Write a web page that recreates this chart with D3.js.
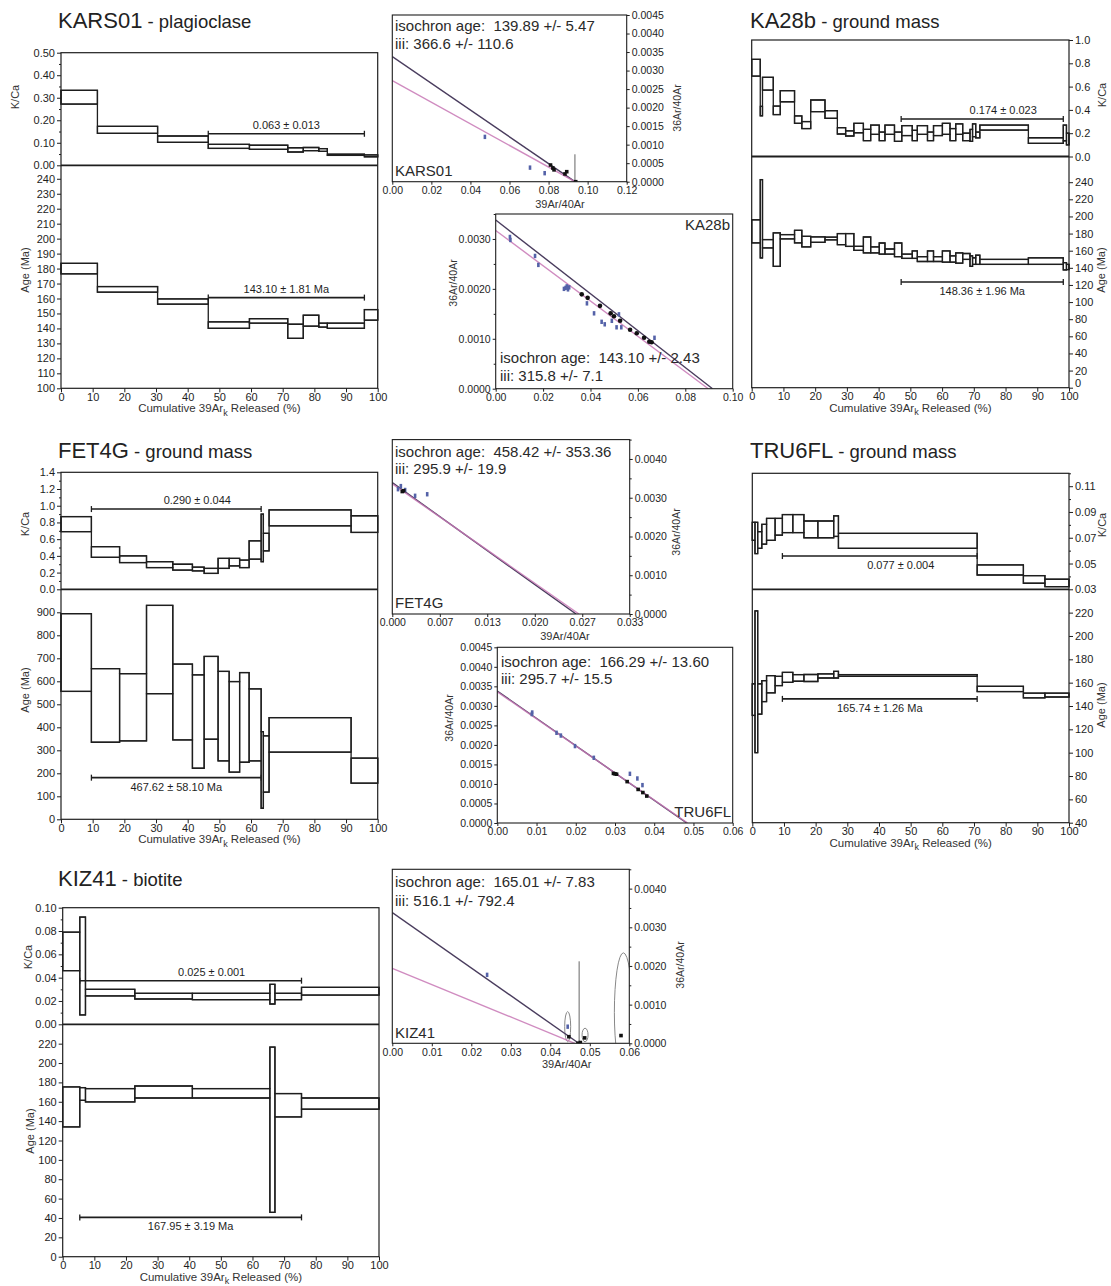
<!DOCTYPE html>
<html>
<head>
<meta charset="utf-8">
<script src="https://cdn.jsdelivr.net/npm/d3@7"></script>
<style>
  body { margin: 0; background: #fff; }
  svg { font-family: Arial, "Liberation Sans", sans-serif; }
</style>
</head>
<body>
<div id="chart"></div>
<script>
// ---------- step data: cumulative 39Ar boundaries, [low, high] per step ----------
const pctTicks = [0, 10, 20, 30, 40, 50, 60, 70, 80, 90, 100];

// KARS01 - plagioclase
const kars01Cum = [0, 11.5, 30.5, 46.5, 59.5, 71.6, 76.5, 81.4, 84.1, 95.8, 100];
const kars01KCa = [[0.272, 0.333], [0.142, 0.173], [0.102, 0.130], [0.075, 0.093], [0.071, 0.089],
  [0.059, 0.078], [0.065, 0.079], [0.062, 0.074], [0.044, 0.049], [0.038, 0.046]];
const kars01Age = [[176.5, 183.5], [164.2, 168], [156.2, 159.7], [140.1, 144.4], [143.5, 146.5],
  [133.4, 142.8], [141.5, 148.8], [140.9, 143.5], [140.1, 143.5], [145.5, 152.6]];
const kars01KCaPlateau = [46.5, 95.8, 0.140];
const kars01AgePlateau = [46.5, 95.8, 160.6];
const kars01KCaTicks = [0, 0.1, 0.2, 0.3, 0.4, 0.5];
const kars01KCaMinor = [0.05, 0.15, 0.25, 0.35, 0.45];
const kars01AgeTicks = [100, 110, 120, 130, 140, 150, 160, 170, 180, 190, 200, 210, 220, 230, 240];

// KA28b - ground mass
const ka28bCum = [0, 2.7, 3.4, 6.8, 9, 13.5, 15.8, 18.6, 23.1, 27, 29.6, 32.2, 35.2, 37.5, 40.2, 42, 45,
  47.3, 50.6, 52.2, 55.4, 57.3, 60.1, 62.5, 64.3, 66.5, 68.8, 69.6, 70.6, 71.9, 87.2, 98.2, 99.2, 100];
const ka28bKCa = [[0.69, 0.834], [0.35, 0.43], [0.57, 0.68], [0.36, 0.433], [0.47, 0.565], [0.285, 0.348],
  [0.24, 0.30], [0.385, 0.485], [0.328, 0.393], [0.193, 0.247], [0.176, 0.22], [0.204, 0.285],
  [0.136, 0.233], [0.19, 0.27], [0.136, 0.21], [0.19, 0.27], [0.13, 0.21], [0.18, 0.265],
  [0.136, 0.225], [0.19, 0.265], [0.136, 0.21], [0.18, 0.265], [0.19, 0.285], [0.136, 0.24],
  [0.19, 0.28], [0.136, 0.2], [0.13, 0.232], [0.17, 0.28], [0.16, 0.21], [0.227, 0.27],
  [0.113, 0.161], [0.135, 0.27], [0.10, 0.2]];
const ka28bAge = [[169.1, 196.1], [151.5, 243], [163.2, 173], [141.7, 180.8], [173.8, 178.8], [169.1, 183.8],
  [164.4, 176.8], [169.8, 176.1], [172.7, 175.8], [167, 180], [165, 180], [160.4, 165.1],
  [157.4, 176], [157.4, 164.4], [156, 169], [156, 162], [153, 169], [151, 156],
  [151, 159.7], [147.4, 153], [147.4, 159.7], [147.4, 153], [146.6, 159.7], [146.6, 154],
  [145.4, 157.4], [149.8, 156.7], [141.7, 154], [144, 151.7], [144, 154.7], [144, 149.8],
  [144, 151.7], [137.5, 146], [138, 144]];
const ka28bKCaPlateau = [47.1, 98.2, 0.322];
const ka28bAgePlateau = [47.1, 98.2, 123.4];
const ka28bKCaTicks = [0, 0.2, 0.4, 0.6, 0.8, 1.0];
const ka28bAgeTicks = [0, 20, 40, 60, 80, 100, 120, 140, 160, 180, 200, 220, 240];

// FET4G - ground mass
const fet4gCum = [0, 9.6, 18.5, 27, 35.3, 41.5, 45.2, 49.6, 53.1, 56.4, 59.4, 63.2, 63.9, 65.7, 91.6, 100];
const fet4gKCa = [[0.69, 0.87], [0.383, 0.51], [0.32, 0.40], [0.26, 0.33], [0.23, 0.30], [0.22, 0.265],
  [0.19, 0.25], [0.25, 0.37], [0.28, 0.37], [0.26, 0.35], [0.36, 0.58], [0.33, 0.90], [0.46, 0.67],
  [0.76, 0.95], [0.68, 0.88]];
const fet4gAge = [[556, 894], [335, 655], [341, 633], [546, 930], [345, 675], [222, 628], [348, 708],
  [254, 643], [205, 599], [248, 638], [254, 567], [48, 381], [118, 363], [292, 442], [157, 266]];
const fet4gKCaPlateau = [9.6, 63.2, 0.96];
const fet4gAgePlateau = [9.6, 63.2, 181];
const fet4gKCaTicks = [0, 0.2, 0.4, 0.6, 0.8, 1.0, 1.2, 1.4];
const fet4gKCaMinor = [0.1, 0.3, 0.5, 0.7, 0.9, 1.1, 1.3];
const fet4gAgeTicks = [0, 100, 200, 300, 400, 500, 600, 700, 800, 900];

// TRU6FL - ground mass
const tru6flCum = [0, 0.85, 1.7, 3, 4.5, 7.2, 9.5, 12.8, 16.3, 20.7, 25.7, 27.2, 71, 85.6, 92.4, 100];
const tru6flKCa = [[0.068, 0.082], [0.0577, 0.082], [0.0618, 0.0747], [0.065, 0.0804], [0.068, 0.085],
  [0.072, 0.085], [0.074, 0.088], [0.074, 0.088], [0.07, 0.083], [0.07, 0.083], [0.071, 0.087],
  [0.0618, 0.0734], [0.0411, 0.0489], [0.0347, 0.0406], [0.032, 0.0378]];
const tru6flAge = [[131.9, 159], [100, 221.5], [133, 159], [143.8, 161.7], [151.3, 166], [157.5, 165.4],
  [160.3, 168.8], [161.2, 166.9], [161, 167], [164, 167.5], [164, 169.7], [165.4, 166.9],
  [152.4, 156.9], [147, 151], [147.7, 151]];
const tru6flKCaPlateau = [9.5, 71, 0.0558];
const tru6flAgePlateau = [9.5, 71, 146.1];
const tru6flKCaTicks = [0.03, 0.05, 0.07, 0.09, 0.11];
const tru6flKCaMinor = [0.04, 0.06, 0.08, 0.10, 0.12];
const tru6flAgeTicks = [40, 60, 80, 100, 120, 140, 160, 180, 200, 220];

// KIZ41 - biotite
const kiz41Cum = [0, 5.4, 7.2, 22.8, 41, 65.5, 67.1, 75.5, 100];
const kiz41KCa = [[0.046, 0.079], [0.008, 0.092], [0.0243, 0.030], [0.0217, 0.0266], [0.0211, 0.0266],
  [0.0174, 0.0343], [0.0211, 0.0266], [0.0251, 0.0317]];
const kiz41Age = [[134, 175.3], [161.5, 174.6], [159.8, 173.6], [163.9, 176.3], [163.9, 173.6],
  [45.8, 216.5], [144.3, 168.5], [152.3, 163.9]];
const kiz41KCaPlateau = [5.4, 75.5, 0.0374];
const kiz41AgePlateau = [5.4, 75.5, 40.6];
const kiz41KCaTicks = [0, 0.02, 0.04, 0.06, 0.08, 0.10];
const kiz41KCaMinor = [0.01, 0.03, 0.05, 0.07, 0.09];
const kiz41AgeTicks = [0, 20, 40, 60, 80, 100, 120, 140, 160, 180, 200, 220];

// ---------- isochron data: [39Ar/40Ar, 36Ar/40Ar]; lines as [y-intercept, x-intercept] ----------
const kars01IsoBlue = [[0.0474, 0.00121], [0.0705, 0.00038], [0.078, 0.00023]];
const kars01IsoBlack = [[0.081, 0.00045], [0.0828, 0.00032], [0.0822, 0.00037], [0.0884, 0.00021],
  [0.0893, 0.00027], [0.0939, 0.0]];
const kars01IsoLines = [[0.00338, 0.0935], [0.00273, 0.0935]];
const kars01IsoErr = [[0.0935, 0, 0.00074]];
const kars01IsoXTicks = [0, 0.02, 0.04, 0.06, 0.08, 0.10, 0.12];
const kars01IsoYTicks = [0, 0.0005, 0.001, 0.0015, 0.002, 0.0025, 0.003, 0.0035, 0.004, 0.0045];

const ka28bIsoBlue = [[0.006, 0.00304], [0.0062, 0.00298], [0.0166, 0.00266], [0.018, 0.00248],
  [0.0295, 0.00202], [0.030, 0.00205], [0.0305, 0.00199], [0.031, 0.00203], [0.0288, 0.0020],
  [0.0385, 0.00171], [0.0415, 0.00151], [0.052, 0.00149], [0.049, 0.00136], [0.0447, 0.00134],
  [0.046, 0.00129], [0.051, 0.00123], [0.053, 0.00123], [0.067, 0.00102]];
const ka28bIsoBlack = [[0.0363, 0.00189], [0.0388, 0.00182], [0.044, 0.00166], [0.0485, 0.00151],
  [0.0499, 0.00145], [0.0525, 0.00136], [0.0567, 0.00118], [0.0595, 0.00111], [0.0626, 0.00102],
  [0.0658, 0.00093], [0.0648, 0.00094]];
const ka28bIsoLines = [[0.00338, 0.0915], [0.00317, 0.0897]];
const ka28bIsoXTicks = [0, 0.02, 0.04, 0.06, 0.08, 0.10];
const ka28bIsoYTicks = [0, 0.001, 0.002, 0.003];
const ka28bIsoYMinor = [0.0005, 0.0015, 0.0025, 0.0035];

const fet4gIsoBlue = [[0.0018, 0.0032], [0.0008, 0.00322], [0.0032, 0.00305], [0.0049, 0.00309],
  [0.0012, 0.0033]];
const fet4gIsoBlack = [[0.0014, 0.00316], [0.0016, 0.00318]];
const fet4gIsoLines = [[0.00339, 0.0258], [0.00336, 0.0262]];
const fet4gIsoXTicks = [0, 0.00667, 0.01333, 0.02, 0.02667, 0.03333];
const fet4gIsoYTicks = [0, 0.001, 0.002, 0.003, 0.004];
const fet4gIsoYMinor = [0.0005, 0.0015, 0.0025, 0.0035, 0.0045];

const tru6flIsoBlue = [[0.0088, 0.00279], [0.0089, 0.00283], [0.0151, 0.00231], [0.0162, 0.00224],
  [0.0198, 0.00197], [0.0246, 0.00167], [0.0338, 0.00126], [0.0357, 0.00114], [0.037, 0.00097]];
const tru6flIsoBlack = [[0.0296, 0.00127], [0.0300, 0.00126], [0.0304, 0.00125], [0.0331, 0.00106],
  [0.0359, 0.00086], [0.0371, 0.00078], [0.0381, 0.00069]];
const tru6flIsoLines = [[0.00338, 0.0483], [0.00336, 0.0485]];
const tru6flIsoXTicks = [0, 0.01, 0.02, 0.03, 0.04, 0.05, 0.06];
const tru6flIsoYTicks = [0, 0.0005, 0.001, 0.0015, 0.002, 0.0025, 0.003, 0.0035, 0.004, 0.0045];

const kiz41IsoBlue = [[0.024, 0.00177], [0.0444, 0.00043]];
const kiz41IsoBlack = [[0.0447, 0.00017], [0.0487, 0.00014], [0.047, 0.0], [0.0476, 0.00002],
  [0.0579, 0.0002]];
const kiz41IsoLines = [[0.00338, 0.0472], [0.00194, 0.0462]];
const kiz41IsoErr = [[0.0473, 0, 0.00212]];
const kiz41IsoEllipses = [[0.0444, 0.00043, 0.00076, 0.00039], [0.0488, 0.000215, 0.00076, 0.000175],
  [0.0585, 0.0008, 0.00228, 0.00154]];
const kiz41IsoXTicks = [0, 0.01, 0.02, 0.03, 0.04, 0.05, 0.06];
const kiz41IsoYTicks = [0, 0.001, 0.002, 0.003, 0.004];
const kiz41IsoYMinor = [0.0005, 0.0015, 0.0025, 0.0035, 0.0045];

// ---------- drawing ----------
const svg = d3.select("#chart").append("svg").attr("width", 1111).attr("height", 1286);
const ink = "#1e1e1e";
const darkLine = "#4a3d5e", pinkLine = "#c878b6", bluePt = "#5462a8";

function addAxis(side, scale, ticks, fmt, minor, at, size, len, pad) {
  const gen = side === "left" ? d3.axisLeft : side === "right" ? d3.axisRight : d3.axisBottom;
  const tr = side === "bottom" ? `translate(0,${at})` : `translate(${at},0)`;
  if (minor) {
    svg.append("g").attr("transform", tr)
      .call(gen(scale).tickValues(minor).tickSize(2).tickFormat(""))
      .call((g) => g.select(".domain").remove())
      .selectAll("line").attr("stroke", ink);
  }
  const g = svg.append("g").attr("transform", tr)
    .call(gen(scale).tickValues(ticks).tickSize(len || 4).tickPadding(pad == null ? 2 : pad).tickFormat(fmt));
  g.select(".domain").remove();
  g.selectAll("line").attr("stroke", ink);
  g.selectAll("text").attr("font-size", size).attr("font-family", "Arial, 'Liberation Sans', sans-serif")
    .attr("fill", ink);
  return g;
}

function vText(x, y, txt, size) {
  svg.append("text").attr("transform", `translate(${x},${y}) rotate(-90)`)
    .attr("text-anchor", "middle").attr("dy", "0.35em")
    .attr("font-size", size).attr("fill", "#333").text(txt);
}

function drawSteps(g, x, y, cum, vals) {
  const up = [], lo = [];
  vals.forEach((v, i) => {
    up.push([cum[i], v[1]], [cum[i + 1], v[1]]);
    lo.push([cum[i], v[0]], [cum[i + 1], v[0]]);
  });
  const line = d3.line().x((d) => x(d[0])).y((d) => y(d[1]));
  g.append("path").attr("d", line(up.concat(lo.reverse())) + "Z")
    .attr("fill", "none").attr("stroke", ink).attr("stroke-width", 1.3);
  g.selectAll(null).data(vals).join("rect")
    .attr("x", (d, i) => x(cum[i]))
    .attr("y", (d) => y(d[1]))
    .attr("width", (d, i) => x(cum[i + 1]) - x(cum[i]))
    .attr("height", (d) => y(d[0]) - y(d[1]))
    .attr("fill", "none").attr("stroke", ink).attr("stroke-width", 1.3);
}

function plateau(g, x, y, bar, label, below, dx) {
  const yy = y(bar[2]);
  g.append("line").attr("x1", x(bar[0])).attr("x2", x(bar[1])).attr("y1", yy).attr("y2", yy)
    .attr("stroke", ink).attr("stroke-width", 1.6);
  [bar[0], bar[1]].forEach((v) => {
    g.append("line").attr("x1", x(v)).attr("x2", x(v)).attr("y1", yy - 3).attr("y2", yy + 3)
      .attr("stroke", ink).attr("stroke-width", 1.3);
  });
  g.append("text").attr("x", (x(bar[0]) + x(bar[1])) / 2 + dx).attr("y", below ? yy + 13 : yy - 5)
    .attr("text-anchor", "middle").attr("font-size", 11).attr("fill", ink).text(label);
}

function spectrum(c) {
  const x = d3.scaleLinear([0, 100], [c.left, c.right]);
  const yK = d3.scaleLinear(c.kcaDomain, [c.mid, c.top]);
  const yA = d3.scaleLinear(c.ageDomain, [c.bottom, c.mid]);
  const g = svg.append("g");

  drawSteps(g, x, yK, c.cum, c.kca);
  drawSteps(g, x, yA, c.cum, c.age);

  g.append("rect").attr("x", c.left).attr("y", c.top).attr("width", c.right - c.left)
    .attr("height", c.bottom - c.top).attr("fill", "none").attr("stroke", ink).attr("stroke-width", 1.2);
  g.append("line").attr("x1", c.left).attr("x2", c.right).attr("y1", c.mid).attr("y2", c.mid)
    .attr("stroke", ink).attr("stroke-width", 1.8);

  plateau(g, x, yK, c.kcaBar, c.kcaText, c.kcaBelow, c.kcaDx);
  plateau(g, x, yA, c.ageBar, c.ageText, c.ageBelow, 0);

  const ax = c.side === "left" ? c.left : c.right;
  addAxis(c.side, yK, c.kcaTicks, d3.format(c.kcaFmt), c.kcaMinor, ax, 11);
  const ageAx = addAxis(c.side, yA, c.ageTicks, d3.format("d"), null, ax, 11);
  if (c.lowLabelDy) {
    // lowest age label sits just above the x-axis labels, as in the source figure
    ageAx.selectAll(".tick text").filter((d) => d === c.ageTicks[0]).attr("y", c.lowLabelDy);
  }
  addAxis("bottom", x, pctTicks, d3.format("d"), null, c.bottom, 11, 4, 0.5);

  vText(c.kcaLab[0], c.kcaLab[1], "K/Ca", 11);
  vText(c.ageLab[0], c.ageLab[1], "Age (Ma)", 11);

  const xt = svg.append("text").attr("x", (c.left + c.right) / 2).attr("y", c.bottom + 24)
    .attr("text-anchor", "middle").attr("font-size", 11.5).attr("fill", "#333");
  xt.append("tspan").text("Cumulative 39Ar");
  xt.append("tspan").attr("dy", 3.5).attr("font-size", 9).text("k");
  xt.append("tspan").attr("dy", -3.5).text(" Released (%)");

  const t = svg.append("text").attr("x", c.titleX).attr("y", c.titleY).attr("fill", "#222");
  t.append("tspan").attr("font-size", 22).text(c.name);
  t.append("tspan").attr("font-size", 18.5).text(" - " + c.material);
}

function isochron(c, id) {
  const x = d3.scaleLinear(c.xDomain, [c.left, c.right]);
  const y = d3.scaleLinear(c.yDomain, [c.bottom, c.top]);
  svg.append("clipPath").attr("id", id).append("rect")
    .attr("x", c.left).attr("y", c.top).attr("width", c.right - c.left).attr("height", c.bottom - c.top);
  const g = svg.append("g").attr("clip-path", `url(#${id})`);

  (c.ellipses || []).forEach((e) => {
    g.append("ellipse").attr("cx", x(e[0])).attr("cy", y(e[1]))
      .attr("rx", x(e[2]) - x(0)).attr("ry", y(0) - y(e[3]))
      .attr("fill", "none").attr("stroke", "#888").attr("stroke-width", 1);
  });
  (c.err || []).forEach((e) => {
    g.append("line").attr("x1", x(e[0])).attr("x2", x(e[0])).attr("y1", y(e[1])).attr("y2", y(e[2]))
      .attr("stroke", "#666").attr("stroke-width", 1);
  });

  c.lines.forEach((l, i) => {
    g.append("line").attr("x1", x(0)).attr("y1", y(l[0])).attr("x2", x(l[1])).attr("y2", y(0))
      .attr("stroke", i === 0 ? darkLine : pinkLine).attr("stroke-width", 1.4)
      .attr("opacity", i === 0 ? 1 : 0.85);
  });

  g.selectAll(null).data(c.blue).join("rect")
    .attr("x", (d) => x(d[0]) - 1.3).attr("y", (d) => y(d[1]) - 2.2)
    .attr("width", 2.6).attr("height", 4.4).attr("fill", bluePt);
  if (c.round) {
    g.selectAll(null).data(c.black).join("circle")
      .attr("cx", (d) => x(d[0])).attr("cy", (d) => y(d[1])).attr("r", 2.3)
      .attr("fill", "#111");
  } else {
    g.selectAll(null).data(c.black).join("rect")
      .attr("x", (d) => x(d[0]) - 1.8).attr("y", (d) => y(d[1]) - 1.8)
      .attr("width", 3.6).attr("height", 3.6).attr("fill", "#111");
  }

  svg.append("rect").attr("x", c.left).attr("y", c.top).attr("width", c.right - c.left)
    .attr("height", c.bottom - c.top).attr("fill", "none").attr("stroke", ink).attr("stroke-width", 1.1);

  addAxis("bottom", x, c.xTicks, d3.format(c.xFmt), null, c.bottom, 10.5, 3);
  addAxis(c.side, y, c.yTicks, d3.format(".4f"), c.yMinor, c.side === "left" ? c.left : c.right, 10.5, 3);

  if (c.xTitle) {
    svg.append("text").attr("x", c.xTitle[0]).attr("y", c.xTitle[1]).attr("text-anchor", "middle")
      .attr("font-size", 11).attr("fill", "#333").text("39Ar/40Ar");
  }
  vText(c.yTitle[0], c.yTitle[1], "36Ar/40Ar", 10.5);

  svg.append("text").attr("x", c.textX).attr("y", c.textY[0]).attr("font-size", 15)
    .attr("fill", "#2a2a2a").style("white-space", "pre").text(c.ageText);
  svg.append("text").attr("x", c.textX).attr("y", c.textY[1]).attr("font-size", 15)
    .attr("fill", "#2a2a2a").style("white-space", "pre").text(c.iiiText);
  svg.append("text").attr("x", c.nameX).attr("y", c.nameY).attr("font-size", 15)
    .attr("text-anchor", c.nameAnchor).attr("fill", "#2a2a2a").text(c.name);
}

// ---------- spectra ----------
spectrum({
  name: "KARS01", material: "plagioclase", titleX: 58, titleY: 28,
  left: 61, right: 377.7, top: 52.7, mid: 165.3, bottom: 388.3, side: "left",
  cum: kars01Cum, kca: kars01KCa, age: kars01Age,
  kcaDomain: [0, 0.5], ageDomain: [100, 249],
  kcaTicks: kars01KCaTicks, kcaMinor: kars01KCaMinor, kcaFmt: ".2f", ageTicks: kars01AgeTicks,
  kcaBar: kars01KCaPlateau, kcaText: "0.063 ± 0.013", kcaBelow: false, kcaDx: 0,
  ageBar: kars01AgePlateau, ageText: "143.10 ± 1.81 Ma", ageBelow: false,
  kcaLab: [15, 97], ageLab: [25, 270]
});

spectrum({
  name: "KA28b", material: "ground mass", titleX: 750, titleY: 28,
  left: 751.7, right: 1069, top: 40, mid: 156.5, bottom: 387.7, side: "right",
  cum: ka28bCum, kca: ka28bKCa, age: ka28bAge,
  kcaDomain: [0, 1.0], ageDomain: [0, 270],
  kcaTicks: ka28bKCaTicks, kcaMinor: null, kcaFmt: ".1f", ageTicks: ka28bAgeTicks,
  kcaBar: ka28bKCaPlateau, kcaText: "0.174 ± 0.023", kcaBelow: false, kcaDx: 21,
  ageBar: ka28bAgePlateau, ageText: "148.36 ± 1.96 Ma", ageBelow: true,
  kcaLab: [1102, 95], ageLab: [1101, 270], lowLabelDy: -5
});

spectrum({
  name: "FET4G", material: "ground mass", titleX: 58, titleY: 458,
  left: 61, right: 377.7, top: 472.3, mid: 589.3, bottom: 819.3, side: "left",
  cum: fet4gCum, kca: fet4gKCa, age: fet4gAge,
  kcaDomain: [0, 1.4], ageDomain: [0, 1000],
  kcaTicks: fet4gKCaTicks, kcaMinor: fet4gKCaMinor, kcaFmt: ".1f", ageTicks: fet4gAgeTicks,
  kcaBar: fet4gKCaPlateau, kcaText: "0.290 ± 0.044", kcaBelow: false, kcaDx: 21,
  ageBar: fet4gAgePlateau, ageText: "467.62 ± 58.10 Ma", ageBelow: true,
  kcaLab: [25, 524], ageLab: [25, 690]
});

spectrum({
  name: "TRU6FL", material: "ground mass", titleX: 750, titleY: 458,
  left: 752.3, right: 1069, top: 473.3, mid: 589.3, bottom: 822.7, side: "right",
  cum: tru6flCum, kca: tru6flKCa, age: tru6flAge,
  kcaDomain: [0.03, 0.12], ageDomain: [40, 240],
  kcaTicks: tru6flKCaTicks, kcaMinor: tru6flKCaMinor, kcaFmt: ".2f", ageTicks: tru6flAgeTicks,
  kcaBar: tru6flKCaPlateau, kcaText: "0.077 ± 0.004", kcaBelow: true, kcaDx: 21,
  ageBar: tru6flAgePlateau, ageText: "165.74 ± 1.26 Ma", ageBelow: true,
  kcaLab: [1102, 525], ageLab: [1101, 705]
});

spectrum({
  name: "KIZ41", material: "biotite", titleX: 58, titleY: 886,
  left: 62.7, right: 379, top: 907.7, mid: 1024.3, bottom: 1256.7, side: "left",
  cum: kiz41Cum, kca: kiz41KCa, age: kiz41Age,
  kcaDomain: [0, 0.10], ageDomain: [0, 240],
  kcaTicks: kiz41KCaTicks, kcaMinor: kiz41KCaMinor, kcaFmt: ".2f", ageTicks: kiz41AgeTicks,
  kcaBar: kiz41KCaPlateau, kcaText: "0.025 ± 0.001", kcaBelow: false, kcaDx: 21,
  ageBar: kiz41AgePlateau, ageText: "167.95 ± 3.19 Ma", ageBelow: true,
  kcaLab: [28, 957], ageLab: [30, 1131]
});

// ---------- isochrons ----------
isochron({
  left: 392.3, right: 626.7, top: 15, bottom: 181.7, xDomain: [0, 0.12], yDomain: [0, 0.0045],
  side: "right", xTicks: kars01IsoXTicks, xFmt: ".2f", yTicks: kars01IsoYTicks, yMinor: null,
  blue: kars01IsoBlue, black: kars01IsoBlack, lines: kars01IsoLines, err: kars01IsoErr,
  xTitle: [560, 208], yTitle: [677, 108],
  textX: 395, textY: [30.7, 49.3], ageText: "isochron age:  139.89 +/- 5.47", iiiText: "iii: 366.6 +/- 110.6",
  name: "KARS01", nameX: 395, nameY: 176, nameAnchor: "start"
}, "clipKars01");

isochron({
  left: 495.7, right: 732.7, top: 214, bottom: 388.7, xDomain: [0, 0.1], yDomain: [0, 0.0035],
  side: "left", xTicks: ka28bIsoXTicks, xFmt: ".2f", yTicks: ka28bIsoYTicks, yMinor: ka28bIsoYMinor,
  blue: ka28bIsoBlue, black: ka28bIsoBlack, lines: ka28bIsoLines, round: true,
  xTitle: null, yTitle: [453, 283],
  textX: 500, textY: [363.3, 380.7], ageText: "isochron age:  143.10 +/- 2.43", iiiText: "iii: 315.8 +/- 7.1",
  name: "KA28b", nameX: 730, nameY: 230, nameAnchor: "end"
}, "clipKa28b");

isochron({
  left: 392.3, right: 629.7, top: 439.6, bottom: 614, xDomain: [0, 0.03333], yDomain: [0, 0.0045],
  side: "right", xTicks: fet4gIsoXTicks, xFmt: ".3f", yTicks: fet4gIsoYTicks, yMinor: fet4gIsoYMinor,
  blue: fet4gIsoBlue, black: fet4gIsoBlack, lines: fet4gIsoLines,
  xTitle: [565, 640], yTitle: [676, 532],
  textX: 395, textY: [456.7, 474], ageText: "isochron age:  458.42 +/- 353.36", iiiText: "iii: 295.9 +/- 19.9",
  name: "FET4G", nameX: 395, nameY: 607.7, nameAnchor: "start"
}, "clipFet4g");

isochron({
  left: 497.3, right: 732.7, top: 647.3, bottom: 823, xDomain: [0, 0.06], yDomain: [0, 0.0045],
  side: "left", xTicks: tru6flIsoXTicks, xFmt: ".2f", yTicks: tru6flIsoYTicks, yMinor: null,
  blue: tru6flIsoBlue, black: tru6flIsoBlack, lines: tru6flIsoLines,
  xTitle: null, yTitle: [449.3, 718],
  textX: 501, textY: [666.7, 684.3], ageText: "isochron age:  166.29 +/- 13.60", iiiText: "iii: 295.7 +/- 15.5",
  name: "TRU6FL", nameX: 731, nameY: 817.3, nameAnchor: "end"
}, "clipTru6fl");

isochron({
  left: 392.3, right: 629.3, top: 869.3, bottom: 1043.3, xDomain: [0, 0.06], yDomain: [0, 0.0045],
  side: "right", xTicks: kiz41IsoXTicks, xFmt: ".2f", yTicks: kiz41IsoYTicks, yMinor: kiz41IsoYMinor,
  blue: kiz41IsoBlue, black: kiz41IsoBlack, lines: kiz41IsoLines, err: kiz41IsoErr,
  ellipses: kiz41IsoEllipses,
  xTitle: [566.7, 1068], yTitle: [680, 965],
  textX: 395, textY: [887.3, 905.7], ageText: "isochron age:  165.01 +/- 7.83", iiiText: "iii: 516.1 +/- 792.4",
  name: "KIZ41", nameX: 395, nameY: 1038.3, nameAnchor: "start"
}, "clipKiz41");
</script>
</body>
</html>
